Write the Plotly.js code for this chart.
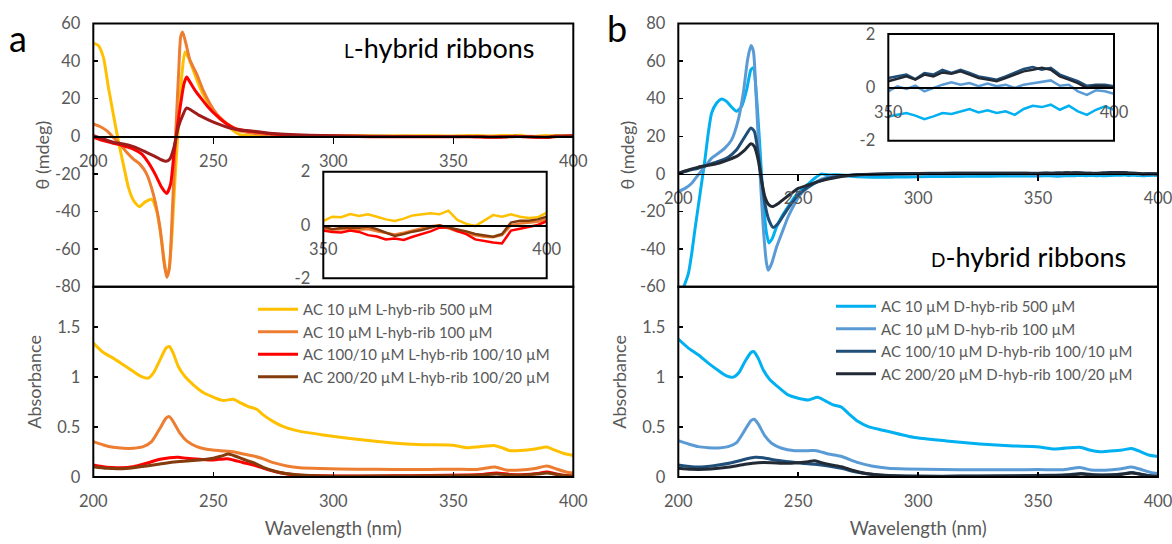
<!DOCTYPE html>
<html><head><meta charset="utf-8">
<script src="https://cdn.plot.ly/plotly-3.0.1.min.js"></script>
<style>body{margin:0;background:#fff}#c{width:1172px;height:544px}</style>
</head><body><div id="c"></div>
<script>
// ---------------- DATA ----------------
// CD spectra, L-hybrid ribbons (mdeg)
const cdL500_wl = [200,202,204.2,206.3,208.3,210.4,212.5,214.6,216.7,219.2,221.5,224.3,226.4,228.5,230.3,231.2,232.6,234,235.4,236.8,238.2,239.6,241.7,244.4,247.2,250,252.8,255.6,258.3,261,265,270,280,290,300,310,320,330,340];
const cdL500 = [49.6,48.4,42,26,12,-2.3,-14.8,-27,-34,-37.5,-35,-33.5,-39.7,-55.7,-71.7,-73.5,-55.7,-23.7,4.8,31.5,44.8,42,35,26,19,13.7,9.3,6.6,3,0.9,0.3,0.1,0.2,0.3,0.2,0.3,0.2,0.3,0.3];
const cdL100_wl = [200,202.8,205.6,208.3,211.1,213.9,216.7,219.4,222.2,225,227.8,229.4,230.6,231.7,233,234.4,235.6,236.4,237.2,238.6,240.3,243,245.8,248.6,251.4,254.2,256.9,259.7,263.9,269.4,277.8,290,300,310,320,330,340];
const cdL100 = [6.6,5.2,3,-0.5,-4.1,-8.5,-12.1,-14.8,-20,-30.8,-48.6,-66.4,-75,-70,-37.9,3,35,52.8,55.5,49.3,40.4,33.3,24.4,17.3,11.9,8.4,5.7,3.4,2.1,1.2,0.7,0.3,0.2,0,-0.1,0,-0.1];
const cdL10010_wl = [200,204.2,208.3,212.5,216.7,220.1,222.9,225.7,228.5,230.6,232.2,233.6,235,236.4,237.8,238.9,240.3,242.4,245.1,247.9,251.4,255.6,259.7,263.9,269.4,275,285,295,305,315,325,335,345];
const cdL10010 = [-0.5,-2.3,-3.7,-5,-6.8,-9.4,-13.9,-20,-27.2,-30.4,-25.4,-9.4,4.8,17.3,28,31.5,28.8,24.4,19.9,15.5,11,6.6,3.9,3,2.1,1.2,0.6,0.2,0,-0.2,-0.3,-0.3,-0.3];
const cdL20020_wl = [200,204.2,208.3,212.5,216.7,220.8,225,228.5,230.3,231.9,233.6,235.4,237.2,238.9,241,244.4,248.6,252.8,256.9,261,266.7,272.2,277.8,282,290,300,310,320,330,340];
const cdL20020 = [0.4,-1.4,-3.2,-4.1,-5.5,-7.7,-10.3,-12.6,-13.3,-12.1,-5.9,4.8,11,15.1,13.7,11,8.4,6.2,4.4,3.4,2.7,1.8,1.2,0.9,0.5,0.3,0.1,0,-0.1,-0.1];

// CD spectra, D-hybrid ribbons (mdeg)
const cdD500_wl = [200,202.5,204.2,205.6,206.9,208.3,209.7,211.1,212.5,213.9,216,218.1,220.1,222.2,224.3,226.4,228.5,230.3,231.3,232.6,234,235.4,236.8,237.8,239.2,241,243.1,245.8,248.6,251.4,254.2,256.9,259.7,262.5,266.7,272,277.8,283.3,290,300,310,320,330,340];
const cdD500 = [-68,-59.3,-53,-42.3,-29.9,-17.4,-5,7.5,21.7,32.4,37.7,39.9,38.6,35.6,33.3,35.9,44.8,55.5,56.4,41.3,14.6,-13.9,-31.7,-36.7,-34.3,-28.1,-22.8,-17.4,-12.1,-8.5,-5.3,-2.3,0,-0.5,-0.5,-1.2,-1.6,-1.8,-1.7,-1.5,-1.4,-1.3,-1.2,-1.1];
const cdD100_wl = [200,202.8,205.6,208.3,211.1,213.9,216.7,219.4,222.2,225,227.1,228.9,230.3,231.3,232.6,234,235.4,236.8,237.5,238.9,241,243.1,245.8,248.6,251.4,255.6,259.7,263.9,269.4,277.8,290,300,310,320,330,340];
const cdD100 = [-9.4,-7.7,-5,-0.5,3.9,8.4,11,13.7,18.1,28.8,43,60.9,68.3,65.3,37.7,2.1,-28.1,-47.7,-51.2,-47.7,-38.8,-31.7,-22.8,-15.7,-10.3,-5.9,-2.8,-1.4,-0.7,-0.4,-0.2,-0.1,0,0,0.1,0];
const cdD10010_wl = [200,204.2,208.3,212.5,216.7,220.8,224.3,227.8,230.3,231.7,233.3,234.7,236.1,237.8,239.6,241.7,244.4,247.2,250,254.2,258.3,262.5,268,275,285,295,305,315,325,335,345];
const cdD10010 = [0,1.8,3,4.8,6.6,8.9,12.8,19.9,24.4,22.6,11,-3.2,-15.7,-24.6,-28.5,-26.3,-21,-15.7,-11.2,-6.8,-4.1,-2.3,-1.1,-0.4,0,0.2,0.3,0.3,0.4,0.4,0.4];
const cdD20020_wl = [200,204.2,208.3,212.5,216.7,220.8,224.3,227.8,230.3,231.7,233.3,234.7,236.1,237.8,239.2,241.7,244.4,247.2,250,254.2,258.3,262.5,268,275,285,295,305,315,325,335,345];
const cdD20020 = [0.4,2.1,3.6,4.6,5.7,7.5,9.3,12.8,16,14.6,7.5,-3.2,-12.1,-16.5,-17.4,-15.7,-13,-10.3,-7.7,-5.9,-4.1,-2.8,-1.4,-0.4,0,0.1,0.2,0.3,0.3,0.3,0.3];

// Insets: 350-400 nm, zoomed CD (mdeg)
const insetWl = [350,352,354,356,358,360,362,364,366,368,370,372,374,376,378,380,382,384,386,388,390,392,394,396,398,400];
const insL500   = [0.15,0.31,0.29,0.41,0.34,0.40,0.31,0.21,0.15,0.24,0.36,0.40,0.44,0.40,0.54,0.19,0.04,-0.04,0.16,0.37,0.31,0.40,0.31,0.26,0.29,0.46];
const insL100   = [-0.12,-0.18,-0.16,-0.14,-0.18,-0.15,-0.24,-0.31,-0.36,-0.29,-0.21,-0.14,-0.05,-0.01,-0.14,-0.24,-0.30,-0.39,-0.44,-0.46,-0.38,-0.01,0.06,0.08,0.12,0.21];
const insL10010 = [-0.21,-0.26,-0.28,-0.21,-0.26,-0.38,-0.43,-0.54,-0.51,-0.56,-0.44,-0.34,-0.24,-0.10,-0.09,-0.23,-0.34,-0.54,-0.61,-0.66,-0.69,-0.21,-0.14,-0.06,0,0.14];
const insL20020 = [-0.06,-0.16,-0.11,-0.09,-0.10,-0.06,-0.16,-0.29,-0.41,-0.34,-0.25,-0.19,-0.09,-0.01,-0.09,-0.16,-0.24,-0.34,-0.38,-0.44,-0.34,0.09,0.16,0.16,0.21,0.31];
const insD500   = [-1.09,-1.03,-0.96,-1.06,-1.19,-1.09,-0.96,-1.0,-0.9,-0.81,-0.94,-0.86,-0.96,-0.9,-1.03,-0.81,-0.69,-0.74,-0.65,-0.84,-0.69,-0.9,-1.03,-0.84,-0.71,-0.84];
const insD100   = [-0.15,0.04,-0.06,0.06,-0.15,-0.02,0.1,0.19,0.1,0.16,0.04,0.14,0.04,0.1,-0.02,0.1,0.16,0.22,0.26,0.06,0.1,-0.15,-0.28,-0.11,-0.15,-0.24];
const insD10010 = [0.35,0.41,0.48,0.31,0.54,0.48,0.66,0.54,0.66,0.54,0.41,0.35,0.29,0.41,0.54,0.69,0.76,0.66,0.73,0.48,0.35,0.23,0.06,0.1,0.1,0.04];
const insD20020 = [0.23,0.31,0.41,0.29,0.48,0.41,0.56,0.51,0.6,0.48,0.35,0.29,0.23,0.35,0.48,0.6,0.66,0.73,0.66,0.41,0.29,0.16,-0.02,0.06,0.04,-0.02];

// Absorbance, L
const absL500_wl = [200,204.2,208.3,212.5,216.7,220.1,222.9,225,227.8,230.3,231.7,233.3,235.4,238.2,241.7,245.8,250,254.2,258.3,261.1,264.6,268.1,270.8,275,279.2,284.7,295.8,309.7,323.6,337.5,350,355.6,361.1,367.4,370.8,373.6,378,384,389,392,396,400];
const absL500 = [1.337,1.243,1.187,1.12,1.053,1.003,0.987,1.037,1.17,1.287,1.303,1.237,1.103,1.003,0.92,0.843,0.797,0.763,0.777,0.743,0.703,0.677,0.62,0.553,0.503,0.463,0.42,0.377,0.343,0.323,0.317,0.293,0.303,0.313,0.287,0.263,0.265,0.28,0.30,0.27,0.235,0.215];
const absL100_wl = [200,204.2,208.3,212.5,216.7,220.8,224.3,227.8,230.3,231.7,233.3,236.1,238.9,243.1,247.2,252.8,258.3,262.5,266.7,270.1,275,280.6,286.1,295,310,325,340,350,360,367.4,372,378,384,389,393,397,400];
const absL100 = [0.353,0.32,0.297,0.287,0.287,0.303,0.353,0.487,0.587,0.603,0.553,0.437,0.36,0.303,0.277,0.263,0.253,0.23,0.21,0.187,0.143,0.11,0.093,0.085,0.078,0.075,0.075,0.078,0.075,0.10,0.07,0.07,0.085,0.11,0.08,0.05,0.04];
const absL10010_wl = [200,205.6,211.1,216.7,222.2,227.8,231.9,235.4,238.9,244.4,250,255.6,258.3,262.5,266.7,272.2,277.8,284.7,295,310,325,340,355,362,368,374,380,385,389,393,397,400];
const absL10010 = [0.12,0.097,0.093,0.103,0.137,0.177,0.193,0.197,0.187,0.177,0.17,0.183,0.17,0.143,0.12,0.077,0.043,0.02,0.012,0.01,0.012,0.015,0.02,0.025,0.04,0.025,0.025,0.035,0.05,0.03,0.015,0.01];
const absL20020_wl = [200,205.6,211.1,216.7,222.2,227.8,233.3,238.9,244.4,250,253.5,256.3,259,262.5,266.7,270.8,276.4,281.9,286.1,295,310,325,340,355,362,368,374,380,385,389,393,397,400];
const absL20020 = [0.103,0.087,0.083,0.093,0.11,0.13,0.15,0.16,0.17,0.187,0.21,0.23,0.21,0.177,0.143,0.097,0.053,0.03,0.02,0.01,0.008,0.01,0.012,0.015,0.02,0.03,0.02,0.02,0.03,0.04,0.025,0.012,0.008];

// Absorbance, D
const absD500_wl = [200,204.2,208.3,212.5,216.7,220.1,222.9,225.3,227.8,230.3,231.4,233.3,235.4,238.2,241.7,245.8,250,254.2,258.1,261.1,264.6,268.1,270.8,275,279.2,284.7,297.9,311.8,325.7,339.6,349.3,357,367.4,371.5,375.7,380,385,389,392,396,400];
const absD500 = [1.377,1.287,1.22,1.137,1.063,1.01,0.997,1.043,1.153,1.243,1.253,1.187,1.07,0.97,0.897,0.82,0.787,0.77,0.797,0.763,0.72,0.697,0.637,0.553,0.503,0.47,0.397,0.36,0.33,0.31,0.303,0.28,0.297,0.27,0.253,0.26,0.27,0.285,0.26,0.22,0.205];
const absD100_wl = [200,204.2,208.3,212.5,216.7,220.8,224.3,227.8,230.3,231.7,233.3,236.1,238.9,243.1,248.6,254.2,257.6,262.5,267.4,270.1,275,280.6,287.5,295,310,325,340,350,360,367.4,372,378,384,389,393,397,400];
const absD100 = [0.363,0.33,0.303,0.293,0.29,0.303,0.343,0.47,0.563,0.577,0.53,0.41,0.337,0.287,0.263,0.263,0.263,0.23,0.21,0.187,0.143,0.11,0.087,0.08,0.075,0.072,0.072,0.075,0.072,0.095,0.07,0.068,0.08,0.10,0.075,0.045,0.035];
const absD10010_wl = [200,205.6,211.1,216.7,222.2,227.8,231.9,235.4,240.3,245.8,251.4,256.9,262.5,268,273.6,279.2,286.1,295,310,325,340,355,362,368,374,380,385,389,393,397,400];
const absD10010 = [0.12,0.103,0.103,0.12,0.143,0.177,0.197,0.193,0.17,0.153,0.137,0.127,0.11,0.087,0.053,0.03,0.017,0.01,0.008,0.01,0.012,0.018,0.022,0.035,0.022,0.022,0.03,0.045,0.028,0.012,0.008];
const absD20020_wl = [200,205.6,211.1,216.7,222.2,227.8,233.3,238.9,244.4,250,254.2,256.7,259.7,263.9,268,272.2,277.8,284.7,295,310,325,340,355,362,368,374,380,385,389,393,397,400];
const absD20020 = [0.087,0.077,0.077,0.087,0.103,0.127,0.143,0.143,0.137,0.143,0.153,0.163,0.143,0.12,0.103,0.07,0.037,0.017,0.008,0.006,0.008,0.01,0.014,0.018,0.03,0.018,0.018,0.028,0.04,0.025,0.01,0.006];

// Labels
const namesL = ["AC 10 µM L-hyb-rib 500 µM","AC 10 µM L-hyb-rib 100 µM","AC 100/10 µM L-hyb-rib 100/10 µM","AC 200/20 µM L-hyb-rib 100/20 µM"];
const namesD = ["AC 10 µM D-hyb-rib 500 µM","AC 10 µM D-hyb-rib 100 µM","AC 100/10 µM D-hyb-rib 100/10 µM","AC 200/20 µM D-hyb-rib 100/20 µM"];
const wlTicks = [200,250,300,350,400];
const cdLTicks = [-80,-60,-40,-20,0,20,40,60];
const cdDTicks = [-60,-40,-20,0,20,40,60,80];
const absTicks = [0,0.5,1,1.5];
const absTickText = ['0','0.5','1','1.5'];
const insTicks = [-2,0,2];
const insXTicks = [350,400];

// ---------------- STYLE / LAYOUT ----------------
const W = 1172, H = 544;
const fx = p => p / W, fy = p => 1 - p / H;
const F = "Lato, 'Open Sans', sans-serif";
const gray = '#595959';
const colL = ['#FFC000','#ED7D31','#FF0000','#9E1C1C'];
const colLabs = ['#FFC000','#ED7D31','#FF0000','#843C0C'];
const colD = ['#00B0F0','#5B9BD5','#1F4E79','#222A35'];

function line(x, y, color, xa, ya, w, extra, linear) {
  const ln = linear ? {color:color, width:w} : {color:color, width:w, shape:'spline', smoothing:0.6};
  return Object.assign({type:'scatter', mode:'lines', x:x, y:y, xaxis:xa, yaxis:ya,
    line:ln, hoverinfo:'skip', showlegend:false}, extra||{});
}

const traces = [];
[[cdL500_wl,cdL500,insL500],[cdL100_wl,cdL100,insL100],[cdL10010_wl,cdL10010,insL10010],[cdL20020_wl,cdL20020,insL20020]]
  .forEach((s,i)=>traces.push(line(s[0].concat(insetWl), s[1].concat(s[2]), colL[i], 'x', 'y', 3)));
[[cdD500_wl,cdD500,insD500],[cdD100_wl,cdD100,insD100],[cdD10010_wl,cdD10010,insD10010],[cdD20020_wl,cdD20020,insD20020]]
  .forEach((s,i)=>traces.push(line(s[0].concat(insetWl), s[1].concat(s[2]), colD[i], 'x4', 'y4', 3)));
[[absL500_wl,absL500],[absL100_wl,absL100],[absL10010_wl,absL10010],[absL20020_wl,absL20020]]
  .forEach((s,i)=>traces.push(line(s[0], s[1], colLabs[i], 'x2', 'y2', 3, {name:namesL[i], showlegend:true, legend:'legend', legendgroup:'L'+i})));
[[absD500_wl,absD500],[absD100_wl,absD100],[absD10010_wl,absD10010],[absD20020_wl,absD20020]]
  .forEach((s,i)=>traces.push(line(s[0], s[1], colD[i], 'x5', 'y5', 3, {name:namesD[i], showlegend:true, legend:'legend2', legendgroup:'D'+i})));
[insL500,insL100,insL10010,insL20020].forEach((v,i)=>traces.push(line(insetWl, v, colLabs[i], 'x3', 'y3', 2.5, null, true)));
[insD500,insD100,insD10010,insD20020].forEach((v,i)=>traces.push(line(insetWl, v, colD[i], 'x6', 'y6', 2.5, null, true)));

// geometry (pixels)
const Lx = [93.3, 573.3], Dx = [678.3, 1158];
const topPx = [23.5, 286.7], absPx = [286.7, 477];
const LinX = [323.3, 546.7], LinY = [171.7, 278.3];
const DinX = [888.3, 1114], DinY = [34, 140.7];
const zeroPx = (yr, lo, hi) => yr[0] + hi / (hi - lo) * (yr[1] - yr[0]);

const tf = {family:F, size:16.5, color:gray};
function cdX(xr, zp) {
  return {domain:[fx(xr[0]), fx(xr[1])], anchor:'free', position:fy(zp), range:[200,400],
    tickvals:wlTicks, ticktext:wlTicks.map(String), ticks:'outside', ticklen:6, tickwidth:1.5, tickcolor:'#000',
    showline:true, linecolor:'#000', linewidth:1.5, showgrid:false, zeroline:false, tickfont:tf, ticklabelstandoff:3,
    ticklabeloverflow:'allow'};
}
function cdY(xa, lo, hi, tv) {
  return {domain:[fy(topPx[1]), fy(topPx[0])], anchor:xa, range:[lo,hi], tickvals:tv, ticktext:tv.map(String),
    ticks:'inside', ticklen:5, tickwidth:1.5, tickcolor:'#000', showline:false, showgrid:false, zeroline:false,
    tickfont:tf, ticklabelstandoff:12, ticklabeloverflow:'allow',
    title:{text:'θ (mdeg)', font:{family:F, size:18, color:gray}, standoff:0}};
}
function absX(xr, ya) {
  return {domain:[fx(xr[0]), fx(xr[1])], anchor:ya, range:[200,400], tickvals:wlTicks, ticktext:wlTicks.map(String),
    ticks:'inside', ticklen:5, tickwidth:1.5, tickcolor:'#000', showline:false, showgrid:false, zeroline:false,
    tickfont:tf, ticklabelstandoff:12, ticklabeloverflow:'allow',
    title:{text:'Wavelength (nm)', font:{family:F, size:18.5, color:gray}, standoff:12}};
}
function absYax(xa) {
  return {domain:[fy(absPx[1]), fy(absPx[0])], anchor:xa, range:[0,1.9], tickvals:absTicks, ticktext:absTickText,
    ticks:'inside', ticklen:5, tickwidth:1.5, tickcolor:'#000', showline:false, showgrid:false, zeroline:false,
    tickfont:tf, ticklabelstandoff:12, ticklabeloverflow:'allow',
    title:{text:'Absorbance', font:{family:F, size:18, color:gray}, standoff:10}};
}
function insX(xr, zp) {
  return {domain:[fx(xr[0]), fx(xr[1])], anchor:'free', position:fy(zp), range:[350,400], tickvals:insXTicks,
    ticktext:insXTicks.map(String), ticks:'outside', ticklen:6, tickcolor:'rgba(0,0,0,0)', showline:true, linecolor:'#000', linewidth:1.5,
    showgrid:false, zeroline:false, tickfont:tf, ticklabelstandoff:3, ticklabeloverflow:'allow'};
}
function insY(xa, yr) {
  return {domain:[fy(yr[1]), fy(yr[0])], anchor:xa, range:[-2,2], tickvals:insTicks, ticktext:insTicks.map(String),
    ticks:'', showline:false, showgrid:false, zeroline:false, tickfont:tf, ticklabelstandoff:12, ticklabeloverflow:'allow'};
}
function frame(xa, ya) {
  return {type:'rect', xref:xa+' domain', yref:ya+' domain', x0:0, x1:1, y0:0, y1:1, line:{color:'#000', width:2}, fillcolor:'rgba(0,0,0,0)', layer:'above'};
}
function label(xp, yp, text, size) {
  return {xref:'paper', yref:'paper', x:fx(xp), y:fy(yp), xanchor:'center', yanchor:'middle', text:text, showarrow:false,
    font:{family:F, size:size, color:'#000'}};
}

const layout = {
  width:W, height:H, margin:{l:0, r:0, t:0, b:0}, paper_bgcolor:'#fff', plot_bgcolor:'rgba(0,0,0,0)',
  font:{family:F, color:gray},
  xaxis: cdX(Lx, zeroPx(topPx, -80, 60)),
  yaxis: cdY('x', -80, 60, cdLTicks),
  xaxis2: absX(Lx, 'y2'),
  yaxis2: absYax('x2'),
  xaxis3: insX(LinX, (LinY[0]+LinY[1])/2),
  yaxis3: insY('x3', LinY),
  xaxis4: cdX(Dx, zeroPx(topPx, -60, 80)),
  yaxis4: cdY('x4', -60, 80, cdDTicks),
  xaxis5: absX(Dx, 'y5'),
  yaxis5: absYax('x5'),
  xaxis6: insX(DinX, (DinY[0]+DinY[1])/2),
  yaxis6: insY('x6', DinY),
  shapes:[frame('x','y'), frame('x2','y2'), frame('x3','y3'), frame('x4','y4'), frame('x5','y5'), frame('x6','y6')],
  legend:{x:fx(253), y:fy(293), xanchor:'left', yanchor:'top', bgcolor:'rgba(0,0,0,0)', font:{family:F, size:15, color:gray},
    itemwidth:40, tracegroupgap:4, traceorder:'normal'},
  legend2:{x:fx(831), y:fy(290), xanchor:'left', yanchor:'top', bgcolor:'rgba(0,0,0,0)', font:{family:F, size:15, color:gray},
    itemwidth:40, tracegroupgap:2, traceorder:'normal'},
  annotations:[
    label(18, 38, 'a', 36),
    label(617, 28, 'b', 36),
    label(439, 47, "<span style='font-size:19px'>L</span>-hybrid ribbons", 27),
    label(1028, 256, "<span style='font-size:19px'>D</span>-hybrid ribbons", 27)
  ]
};

Plotly.newPlot('c', traces, layout, {staticPlot:true});
</script></body></html>
